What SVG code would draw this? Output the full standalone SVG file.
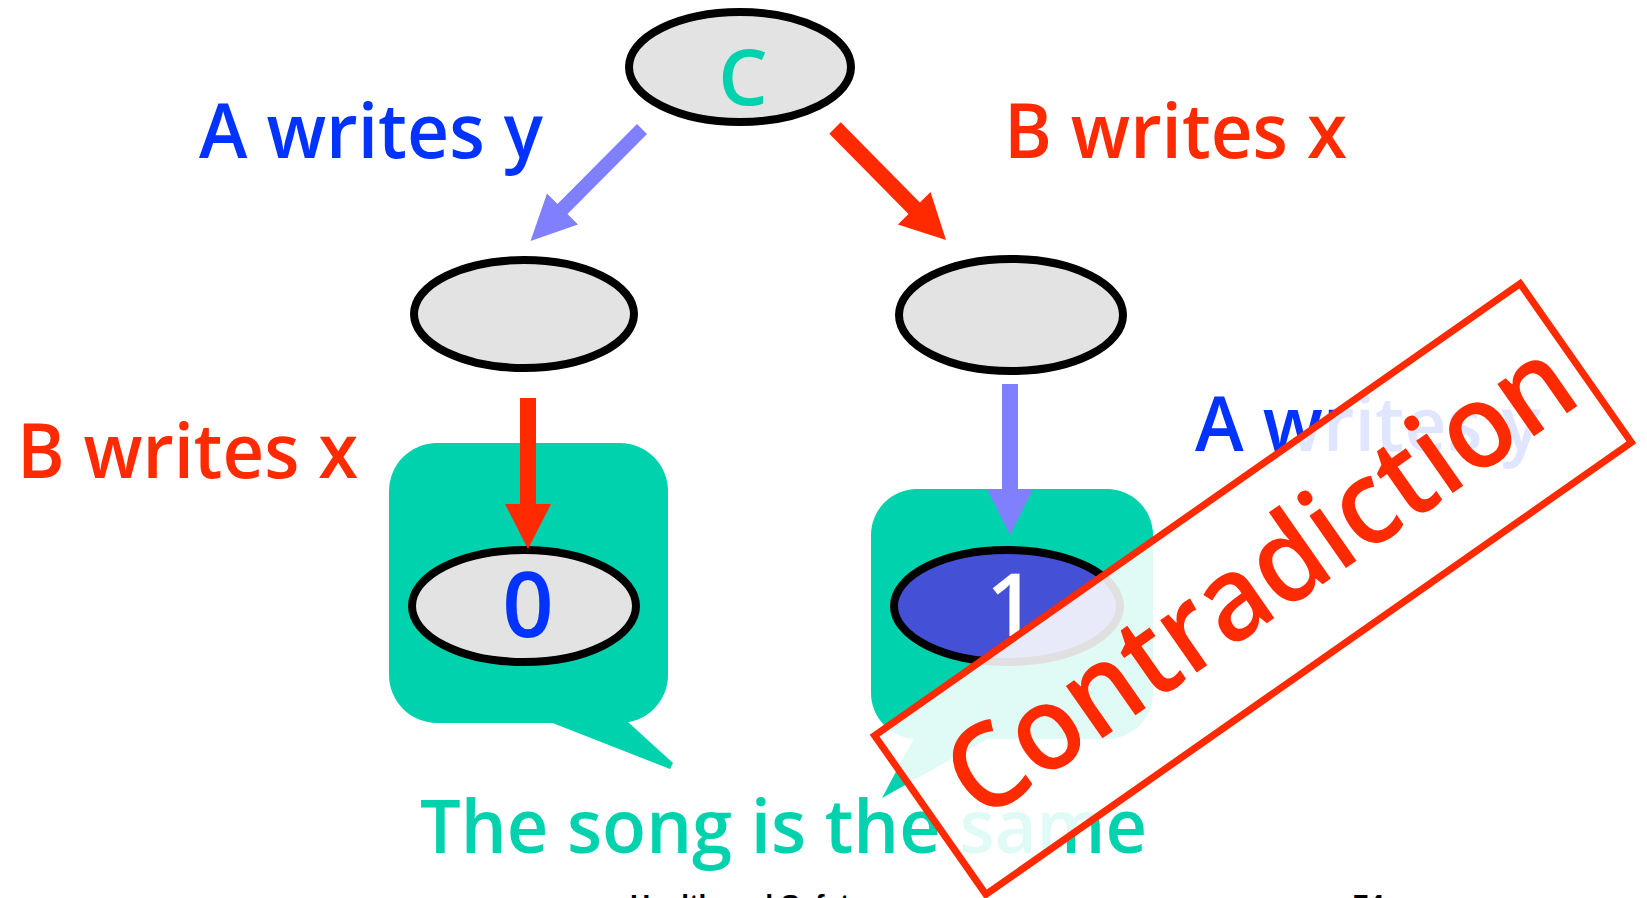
<svg xmlns="http://www.w3.org/2000/svg" width="1647" height="898" viewBox="0 0 1647 898">
  <style>
    text { font-family: "Open Sans", "DejaVu Sans", sans-serif; font-weight: 600; }
    .node ellipse { fill: #e3e3e3; stroke: #000; stroke-width: 8; }
    .blue { fill: #0033ff; }
    .red { fill: #ff2a00; }
    .teal { fill: #00d2ad; }
    .bubble { fill: #00d2ad; }
    .foot { font-family: "Liberation Sans", Arial, sans-serif; font-weight: 700; font-size: 28px; fill: #000; }
  </style>

  <rect width="1647" height="898" fill="#fff"/>

  <!-- speech bubbles behind the leaf states -->
  <g id="bubble-left" class="bubble">
    <rect x="389" y="443" width="279" height="280" rx="48" ry="48"/>
    <polygon points="550,722 670,769 673,763 628,722"/>
  </g>
  <g id="bubble-right" class="bubble">
    <rect x="871" y="489" width="282" height="250" rx="46" ry="46"/>
    <polygon points="914,738 882,798 989,738"/>
  </g>

  <!-- state nodes -->
  <g id="node-c" class="node">
    <ellipse cx="740" cy="67" rx="111" ry="55"/>
    <text x="743" y="105" font-size="78" font-weight="700" text-anchor="middle" class="teal">C</text>
  </g>
  <g id="node-left" class="node">
    <ellipse cx="524" cy="314" rx="110" ry="54"/>
  </g>
  <g id="node-right" class="node">
    <ellipse cx="1011" cy="315" rx="112" ry="56"/>
  </g>
  <g id="node-zero" class="node">
    <ellipse cx="524" cy="606" rx="112" ry="56"/>
    <text x="528" y="637" font-size="90" font-weight="700" text-anchor="middle" class="blue">0</text>
  </g>
  <g id="node-one" class="node">
    <ellipse cx="1007" cy="606" rx="113" ry="56" style="fill:#4450d6"/>
    <text x="1011" y="636" font-size="87" font-weight="700" text-anchor="middle" fill="#fff">1</text>
  </g>

  <!-- transitions -->
  <g id="connectors">
    <polygon fill="#8080ff" points="637,124 647,134 567.5,214 578,224.6 530.5,241 547,193.4 557.5,204"/>
    <polygon fill="#ff2a00" points="840.7,122.3 919.9,202.5 930.5,191.9 946,240 897.9,224.5 908.5,213.9 829.3,133.7"/>
    <polygon fill="#ff2a00" points="520,398 536,398 536,504 551,504 528,549 505,504 520,504"/>
    <polygon fill="#8080ff" points="1002,384 1018,384 1018,489 1033,489 1010,535 987,489 1002,489"/>
  </g>

  <!-- transition labels -->
  <g id="labels" font-size="76">
    <text x="199" y="158" textLength="344" lengthAdjust="spacingAndGlyphs" class="blue">A writes y</text>
    <text x="1004" y="158" textLength="343" lengthAdjust="spacingAndGlyphs" class="red">B writes x</text>
    <text x="17" y="478" textLength="341" lengthAdjust="spacingAndGlyphs" class="red">B writes x</text>
    <text x="1195" y="451" textLength="346" lengthAdjust="spacingAndGlyphs" class="blue">A writes y</text>
  </g>

  <text id="caption" x="420" y="853" font-size="74" textLength="727" lengthAdjust="spacingAndGlyphs" class="teal">The song is the same</text>

  <!-- footer -->
  <text class="foot" x="630" y="914">Health and Safety</text>
  <text class="foot" x="1353" y="914">74</text>

  <!-- stamp across the right branch -->
  <g id="stamp">
    <rect x="-394" y="-97" width="788" height="194" transform="translate(1253,589) rotate(-35)" fill="#fff" fill-opacity="0.88" stroke="#ff2a00" stroke-width="7"/>
    <text transform="translate(1283,612) rotate(-35)" x="0" y="0" font-size="118" text-anchor="middle" textLength="736" lengthAdjust="spacingAndGlyphs" class="red">Contradiction</text>
  </g>
</svg>
